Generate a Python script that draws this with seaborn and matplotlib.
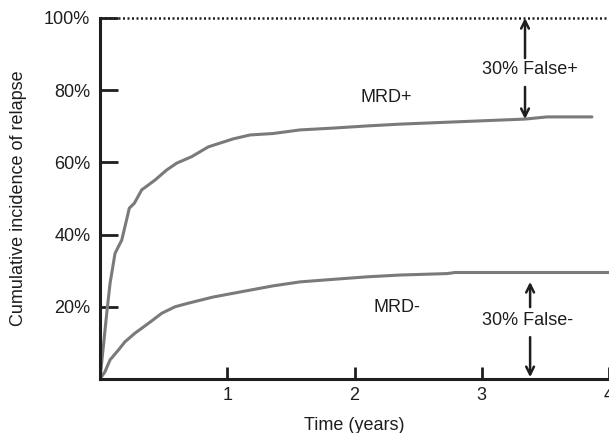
import pandas as pd
import matplotlib
matplotlib.use("Agg")
import matplotlib.pyplot as plt
import seaborn as sns

# Curvas (tiempo en anos, incidencia en %)
mrd_pos_t = [0, 0.053, 0.079, 0.118, 0.171, 0.215, 0.230, 0.270, 0.328, 0.432, 0.524,
             0.603, 0.721, 0.851, 1.045, 1.179, 1.360, 1.572, 1.831, 2.098, 2.358,
             2.986, 3.340, 3.513, 3.866]
mrd_pos_y = [0, 18.2, 26.5, 34.8, 38.5, 45.0, 47.3, 48.7, 52.4, 55.1, 57.9,
             59.8, 61.6, 64.3, 66.5, 67.6, 68.0, 69.0, 69.5, 70.1, 70.6,
             71.5, 72.0, 72.6, 72.6]

mrd_neg_t = [0, 0.039, 0.079, 0.144, 0.196, 0.275, 0.380, 0.485, 0.589, 0.694, 0.888,
             1.100, 1.360, 1.572, 1.831, 2.098, 2.358, 2.727, 2.790, 4.0]
mrd_neg_y = [0, 2.0, 5.3, 8.0, 10.3, 12.7, 15.4, 18.2, 20.0, 21.0, 22.7,
             24.1, 25.8, 26.9, 27.6, 28.3, 28.8, 29.2, 29.5, 29.5]

x_ticks = [1, 2, 3, 4]
y_ticks = [20, 40, 60, 80, 100]
y_tick_labels = ["20%", "40%", "60%", "80%", "100%"]

df = pd.concat([
    pd.DataFrame({"t": mrd_pos_t, "cir": mrd_pos_y, "grupo": "MRD+"}),
    pd.DataFrame({"t": mrd_neg_t, "cir": mrd_neg_y, "grupo": "MRD-"}),
])

sns.set_style("ticks")
plt.rcParams["font.family"] = ["Liberation Sans", "DejaVu Sans"]
plt.rcParams["font.size"] = 13

ink = "#1e1e1e"
curve = "#7a7a7a"

fig = plt.figure(figsize=(6.09, 4.33), dpi=100)
ax = fig.add_axes([100 / 609, 54 / 433, 509 / 609, 361 / 433])

sns.lineplot(data=df, x="t", y="cir", units="grupo", estimator=None, sort=False,
             color=curve, linewidth=2.2, ax=ax)

ax.set_xlim(0, 4)
ax.set_ylim(0, 100)
ax.set_xticks(x_ticks)
ax.set_yticks(y_ticks)
ax.set_yticklabels(y_tick_labels)
ax.tick_params(axis="y", direction="in", length=13, width=2, color=ink,
               labelcolor=ink, pad=7, labelsize=13)
ax.tick_params(axis="x", direction="in", length=8.5, width=2, color=ink,
               labelcolor=ink, pad=6, labelsize=13)

for s in ["top", "right"]:
    ax.spines[s].set_visible(False)
for s in ["left", "bottom"]:
    ax.spines[s].set_linewidth(2.2)
    ax.spines[s].set_color(ink)

# Linea punteada al 100%
ax.axhline(100, color=ink, linewidth=1.8, linestyle=(0, (0.8, 1.0)), clip_on=False)

ax.set_xlabel("Time (years)", color=ink, fontsize=13, labelpad=9)
ax.set_ylabel("Cumulative incidence of relapse", color=ink, fontsize=13, labelpad=12)

# Etiquetas de las curvas
ax.text(2.25, 78.1, "MRD+", ha="center", va="center", color=ink, fontsize=13)
ax.text(2.33, 19.7, "MRD-", ha="center", va="center", color=ink, fontsize=13)

# Flechas de falsos positivos / negativos
arrow = dict(arrowstyle="->", color=ink, lw=1.8, shrinkA=0, shrinkB=0,
             mutation_scale=14)
ax.annotate("", xy=(3.34, 100), xytext=(3.34, 88.9), arrowprops=arrow)
ax.annotate("", xy=(3.34, 72.0), xytext=(3.34, 80.9), arrowprops=arrow)
ax.text(3.38, 85.6, "30% False+", ha="center", va="center", color=ink, fontsize=13)

ax.annotate("", xy=(3.38, 26.9), xytext=(3.38, 19.9), arrowprops=arrow)
ax.annotate("", xy=(3.38, 0.5), xytext=(3.38, 11.6), arrowprops=arrow)
ax.text(3.36, 16.3, "30% False-", ha="center", va="center", color=ink, fontsize=13)

fig.savefig("out.png", dpi=100)
